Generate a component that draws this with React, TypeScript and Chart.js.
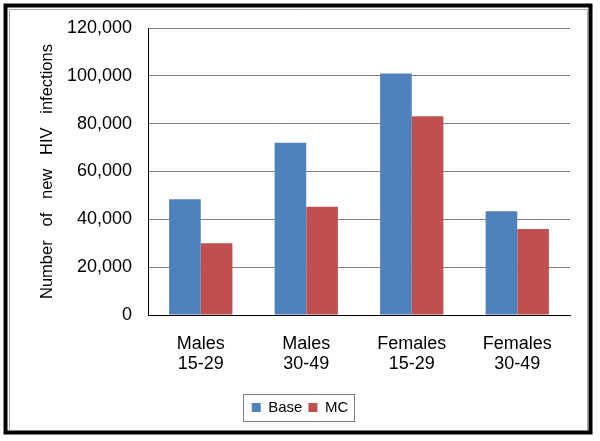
import React, { useEffect, useRef } from 'react';
import { Chart, registerables } from 'chart.js';

Chart.register(...registerables);

const categories: string[][] = [
  ['Males', '15-29'],
  ['Males', '30-49'],
  ['Females', '15-29'],
  ['Females', '30-49'],
];
const baseValues: number[] = [48400, 72000, 101000, 43400];
const mcValues: number[] = [30000, 45300, 83100, 36000];
const seriesNames: string[] = ['Base', 'MC'];
const yTickValues: number[] = [0, 20000, 40000, 60000, 80000, 100000, 120000];
const yTitle = 'Number   of   new   HIV   infections';

const FONT = "'Liberation Sans', Arial, sans-serif";

const framePlugin = {
  id: 'frame',
  beforeDraw(chart: any) {
    const ctx = chart.ctx;
    ctx.save();
    ctx.fillStyle = '#ffffff';
    ctx.fillRect(0, 0, chart.width, chart.height);
    ctx.restore();
  },
  afterDraw(chart: any) {
    const ctx = chart.ctx;
    ctx.save();
    // outer frame
    ctx.strokeStyle = '#000000';
    ctx.lineWidth = 4;
    ctx.strokeRect(5.5, 5.5, 585, 427);
    ctx.strokeStyle = '#a8a8a8';
    ctx.lineWidth = 1;
    ctx.beginPath();
    ctx.moveTo(9.5, 430);
    ctx.lineTo(9.5, 9.5);
    ctx.lineTo(587.5, 9.5);
    ctx.lineTo(587.5, 430);
    ctx.stroke();
    // legend border
    const hb = chart.legend && chart.legend.legendHitBoxes;
    if (hb && hb.length) {
      const first = hb[0];
      const last = hb[hb.length - 1];
      const cy = first.top + first.height / 2;
      const left = Math.round(first.left - 9) + 0.5;
      const right = Math.round(last.left + last.width + 6) + 0.5;
      ctx.strokeStyle = '#7f7f7f';
      ctx.lineWidth = 1;
      ctx.strokeRect(left, Math.round(cy - 14) + 0.5, right - left, 27);
    }
    ctx.restore();
  },
};

export default function App() {
  const canvasRef = useRef<HTMLCanvasElement | null>(null);

  useEffect(() => {
    const canvas = canvasRef.current;
    if (!canvas) return;
    const chart = new Chart(canvas, {
      type: 'bar',
      data: {
        labels: categories,
        datasets: [
          {
            label: seriesNames[0],
            data: baseValues,
            backgroundColor: '#4F81BD',
            borderWidth: 0,
            categoryPercentage: 0.6,
            barPercentage: 1.0,
          },
          {
            label: seriesNames[1],
            data: mcValues,
            backgroundColor: '#C0504D',
            borderWidth: 0,
            categoryPercentage: 0.6,
            barPercentage: 1.0,
          },
        ],
      },
      options: {
        responsive: false,
        animation: false,
        devicePixelRatio: 1,
        layout: { padding: { left: 30, right: 30, top: 28, bottom: 16 } },
        plugins: {
          legend: {
            display: true,
            position: 'bottom',
            labels: {
              boxWidth: 9,
              boxHeight: 9,
              padding: 6,
              color: '#000000',
              font: { family: FONT, size: 15 },
            },
          },
          tooltip: { enabled: false },
          title: { display: false },
        },
        scales: {
          x: {
            grid: { display: false, drawTicks: false },
            border: { display: true, color: '#000000', width: 1 },
            ticks: {
              color: '#000000',
              padding: 19,
              maxRotation: 0,
              font: { family: FONT, size: 18, lineHeight: 1.1 },
            },
            afterFit(scale: any) {
              scale.height = 79;
            },
          },
          y: {
            min: 0,
            max: 120000,
            grid: { color: '#808080', lineWidth: 1, drawTicks: false },
            border: { display: true, color: '#000000', width: 1 },
            ticks: {
              color: '#000000',
              padding: 16,
              font: { family: FONT, size: 18 },
              callback: (v: any) => Number(v).toLocaleString('en-US'),
            },
            afterBuildTicks(scale: any) {
              scale.ticks = yTickValues.map((v) => ({ value: v }));
            },
            afterFit(scale: any) {
              scale.width = 118;
            },
            title: {
              display: true,
              text: yTitle,
              color: '#000000',
              padding: { top: 8, bottom: 0 },
              font: { family: FONT, size: 16.5, lineHeight: 1.2 },
            },
          },
        },
      },
      plugins: [framePlugin],
    });
    return () => chart.destroy();
  }, []);

  return (
    <div style={{ position: 'absolute', left: 0, top: 0, width: 600, height: 441 }}>
      <canvas ref={canvasRef} width={600} height={441} style={{ display: 'block', width: 600, height: 441 }} />
    </div>
  );
}
